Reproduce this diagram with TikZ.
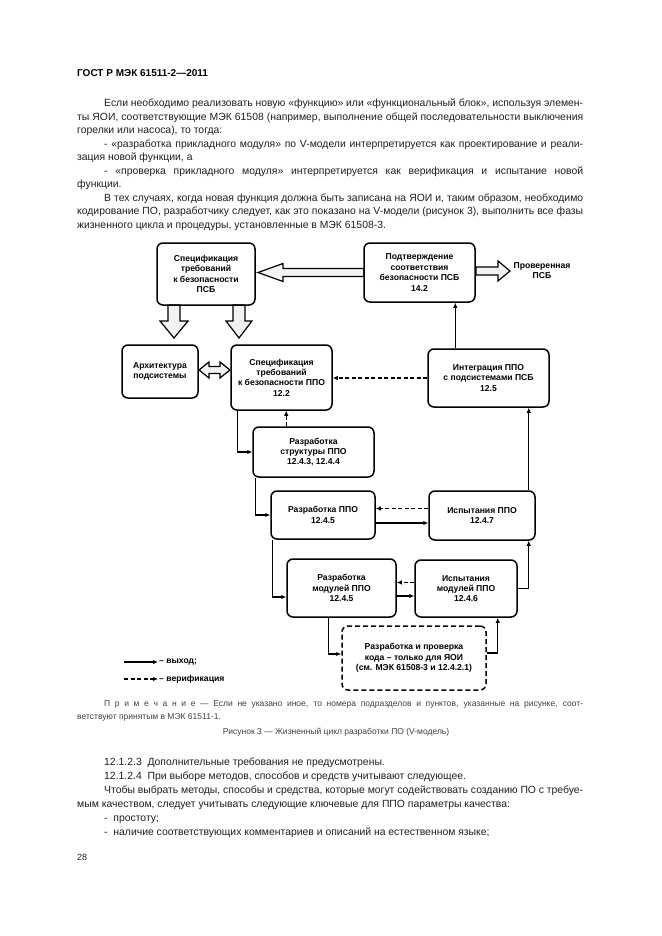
\documentclass[tikz,border=0pt]{standalone}
\usepackage{fontspec}
\setmainfont{Liberation Sans}
\usetikzlibrary{arrows.meta,calc}
\definecolor{txt}{gray}{0.12}
\definecolor{notetxt}{gray}{0.25}
\newcommand\bodyfont{\fontsize{10.4}{13.56}\selectfont}
\begin{document}
\begin{tikzpicture}[x=1pt,y=-1pt,
  box/.style={draw, line width=1.5pt, rounded corners=6pt, align=center,
    font=\fontsize{8.6}{10.4}\selectfont\bfseries, inner sep=2pt},
  dbox/.style={box, dash pattern=on 5pt off 3pt},
  flow/.style={line width=1.3pt, -{Latex[length=5pt,width=4.5pt]}},
  verif/.style={flow, dash pattern=on 4pt off 2.5pt},
  blk/.style={draw, line width=1.2pt, fill=gray!10, line join=miter},
  lbl/.style={font=\fontsize{8.6}{10.4}\selectfont\bfseries, align=center, inner sep=1pt},
  para/.style={anchor=base west, inner sep=0pt, text=txt}
]
\useasboundingbox[fill=white] (0,0) rectangle (661,936);

% header and upper text
\node[para, font=\fontsize{10}{12}\selectfont\bfseries, text=black] (hdr) at (77,77) {ГОСТ Р МЭК 61511-2—2011};
\node[para] (p1) at (77,106.5) {\parbox[t]{506pt}{\bodyfont\tolerance=10000\hyphenpenalty=10000\parindent=0pt
\hspace*{27pt}Если необходимо реализовать новую «функцию» или «функциональный блок», используя элемен-\linebreak ты ЯОИ, соответствующие МЭК 61508 (например, выполнение общей последовательности выключения\linebreak горелки или насоса), то тогда:\par
\hspace*{27pt}- «разработка прикладного модуля» по V-модели интерпретируется как проектирование и реали-\linebreak зация новой функции, а\par
\hspace*{27pt}- «проверка прикладного модуля» интерпретируется как верификация и испытание новой\linebreak функции.\par
\hspace*{27pt}В тех случаях, когда новая функция должна быть записана на ЯОИ и, таким образом, необходимо\linebreak кодирование ПО, разработчику следует, как это показано на V-модели (рисунок 3), выполнить все фазы\linebreak жизненного цикла и процедуры, установленные в МЭК 61508-3.}};

% block arrows
\draw[blk] (364,268.5) -- (283,268.5) -- (283,263.5) -- (258,272.5) -- (283,281.5) -- (283,276.5) -- (364,276.5) -- cycle;
\draw[blk] (476,267) -- (498,267) -- (498,261) -- (510,271) -- (498,281) -- (498,275) -- (476,275) -- cycle;
\draw[blk] (168,305) -- (168,321) -- (160,321) -- (174,338) -- (188,321) -- (180,321) -- (180,305) -- cycle;
\draw[blk] (233,305) -- (233,321) -- (226,321) -- (239,338) -- (252,321) -- (245,321) -- (245,305) -- cycle;
\draw[blk] (199,370) -- (209,362) -- (209,366.5) -- (220,366.5) -- (220,362) -- (230,370) -- (220,378) -- (220,373.5) -- (209,373.5) -- (209,378) -- cycle;

% boxes
\node[box, minimum width=98pt, minimum height=62pt] (A) at (206,274) {Спецификация\\требований\\к безопасности\\ПСБ};
\node[box, minimum width=111pt, minimum height=59pt] (B) at (419.5,272.5) {Подтверждение\\соответствия\\безопасности ПСБ\\14.2};
\node[lbl] (V) at (542,270.5) {Проверенная\\ПСБ};
\node[box, minimum width=76pt, minimum height=53pt] (C) at (160,371.5) {Архитектура\\подсистемы};
\node[box, minimum width=101pt, minimum height=65pt] (D) at (281.5,377.5) {Спецификация\\требований\\к безопасности ППО\\12.2};
\node[box, minimum width=121pt, minimum height=58pt] (E) at (488.5,378) {Интеграция ППО\\с подсистемами ПСБ\\12.5};
\node[box, minimum width=121pt, minimum height=50pt] (F) at (313.5,452) {Разработка\\структуры ППО\\12.4.3, 12.4.4};
\node[box, minimum width=104pt, minimum height=48pt] (G) at (323,515) {Разработка ППО\\12.4.5};
\node[box, minimum width=106pt, minimum height=49pt] (H) at (482,515.5) {Испытания ППО\\12.4.7};
\node[box, minimum width=109pt, minimum height=58pt] (I) at (341.5,588) {Разработка\\модулей ППО\\12.4.5};
\node[box, minimum width=102pt, minimum height=57pt] (J) at (466,588.5) {Испытания\\модулей ППО\\12.4.6};
\node[dbox, minimum width=144pt, minimum height=64pt] (K) at (414,658) {Разработка и проверка\\кода – только для ЯОИ\\(см. МЭК 61508-3 и 12.4.2.1)};

% connectors
\draw[flow] ([xshift=28pt]E.north west) -- ([xshift=28pt]E.north west |- B.south);
\draw[verif] (E.west) -- (E.west -| D.east);
\draw[flow] ([xshift=7pt]D.south west) |- (F.west);
\draw[verif] ([xshift=34pt]F.north west) -- ([xshift=34pt]F.north west |- D.south);
\draw[flow] ([xshift=3pt]F.south west) |- (G.west);
\draw[flow] ([yshift=-8pt]G.east) -- ([yshift=-8pt]G.east -| H.west);
\draw[verif] ([yshift=7pt]H.west) -- ([yshift=7pt]H.west -| G.east);
\draw[flow] ([xshift=-7pt]H.north east) -- ([xshift=-7pt]H.north east |- E.south);
\draw[flow] ([xshift=2pt]G.south west) |- ([yshift=-9pt]I.west);
\draw[verif] ([yshift=6pt]J.west) -- ([yshift=6pt]J.west -| I.east);
\draw[flow] ([yshift=-8pt]I.east) -- ([yshift=-8pt]I.east -| J.west);
\draw[flow] (J.east) -| ([xshift=-7pt]H.south east);
\draw[flow] ([xshift=42pt]I.south west) |- ([yshift=4pt]K.west);
\draw[flow] ([yshift=5pt]K.east) -| ([xshift=-20pt]J.south east);

% legend
\coordinate (la1) at (124,662);
\coordinate (lb1) at (158,662);
\coordinate (la2) at (124,679);
\coordinate (lb2) at (158,679);
\draw[flow] (la1) -- (lb1);
\draw[verif] (la2) -- (lb2);
\node[lbl, anchor=west] (lt1) at (lb1) {– выход;};
\node[lbl, anchor=west] (lt2) at (lb2) {– верификация};

% note and caption
\node[para, text=notetxt] (note) at (77,706) {\parbox[t]{506pt}{\fontsize{8.5}{13}\selectfont\tolerance=10000\hyphenpenalty=10000\parindent=0pt
\hspace*{27pt}П р и м е ч а н и е — Если не указано иное, то номера подразделов и пунктов, указанные на рисунке, соот-\linebreak ветствуют принятым в МЭК 61511-1.}};
\node[anchor=base, inner sep=0pt, text=notetxt, font=\fontsize{8.5}{10}\selectfont] (cap) at (336,734) {Рисунок 3 — Жизненный цикл разработки ПО (V-модель)};

% lower text
\node[para] (p2) at (77,765) {\parbox[t]{506pt}{\fontsize{10.4}{14}\selectfont\tolerance=10000\hyphenpenalty=10000\parindent=0pt
\hspace*{27pt}12.1.2.3\ \ Дополнительные требования не предусмотрены.\par
\hspace*{27pt}12.1.2.4\ \ При выборе методов, способов и средств учитывают следующее.\par
\hspace*{27pt}Чтобы выбрать методы, способы и средства, которые могут содействовать созданию ПО с требуе-\linebreak мым качеством, следует учитывать следующие ключевые для ППО параметры качества:\par
\hspace*{27pt}-\ \ простоту;\par
\hspace*{27pt}-\ \ наличие соответствующих комментариев и описаний на естественном языке;}};
\node[para, font=\fontsize{9}{10}\selectfont] (pg) at (77,860) {28};
\end{tikzpicture}
\end{document}
